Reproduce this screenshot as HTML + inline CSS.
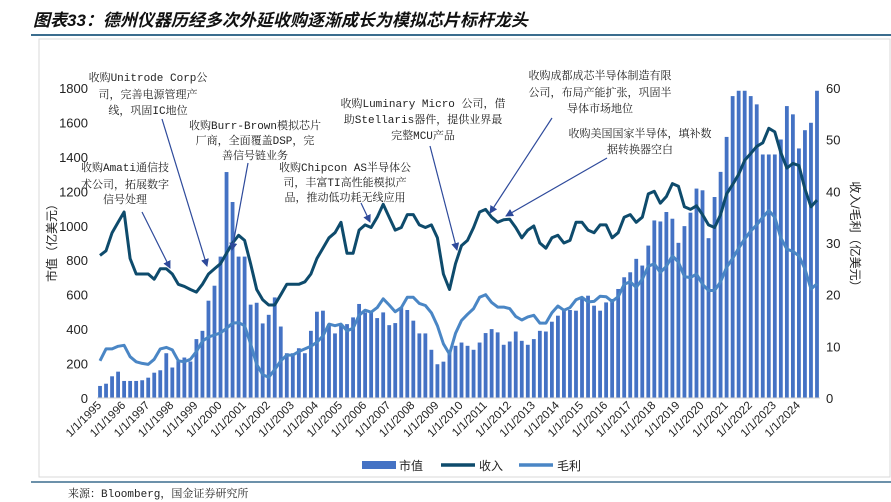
<!DOCTYPE html>
<html><head><meta charset="utf-8">
<style>
html,body{margin:0;padding:0;background:#fff;}
body{width:891px;height:502px;overflow:hidden;position:relative;font-family:"Liberation Sans","Noto Sans CJK SC",sans-serif;}
svg{position:absolute;left:0;top:0;}
</style></head>
<body>
<svg id="chart" width="891" height="502" viewBox="0 0 891 502">
  <text x="33" y="26" font-size="17" font-weight="bold" font-style="italic" font-family="'Liberation Sans','Noto Sans CJK SC',sans-serif" fill="#111">图表33：德州仪器历经多次外延收购逐渐成长为模拟芯片标杆龙头</text>
  <line x1="31" y1="35" x2="891" y2="35" stroke="#3B6D8E" stroke-width="2"/>
  <rect x="39" y="39" width="851" height="438" fill="none" stroke="#d9d9d9" stroke-width="1"/>
  <line x1="31" y1="482" x2="891" y2="482" stroke="#3B6D8E" stroke-width="1.5"/>
  <text x="68" y="497" font-size="11" font-family="'Liberation Mono','Noto Serif CJK SC',monospace" fill="#222">来源：Bloomberg，国金证券研究所</text>
  <g id="bars"></g>
  <g id="lines"></g>
  <g id="axes"></g>
  <g id="notes" font-size="11" font-family="'Liberation Mono','Noto Serif CJK SC',monospace" fill="#222"></g>
  <text x="0" y="0" transform="translate(56,240) rotate(-90)" text-anchor="middle" font-size="12" fill="#222">市值（亿美元）</text>
  <text x="0" y="0" transform="translate(851,237) rotate(90)" text-anchor="middle" font-size="12" fill="#222">收入/毛利（亿美元）</text>
  <g>
    <rect x="362" y="461" width="34" height="8" fill="#4472C4"/>
    <text x="399" y="470" font-size="12" fill="#222">市值</text>
    <line x1="441" y1="465" x2="475" y2="465" stroke="#0E4B6C" stroke-width="3.5"/>
    <text x="479" y="470" font-size="12" fill="#222">收入</text>
    <line x1="519" y1="465" x2="553" y2="465" stroke="#4A86C5" stroke-width="3.5"/>
    <text x="557" y="470" font-size="12" fill="#222">毛利</text>
  </g>
</svg>
<script>
const startYear = 1995;
const marketCap = [70,83,126,153,99,99,99,103,118,147,161,260,177,216,235,212,342,390,565,652,821,1312,1138,821,821,542,553,433,483,584,415,260,260,289,260,390,501,507,429,375,
429,429,468,546,497,497,464,497,423,435,526,511,449,375,375,280,196,211,268,303,322,303,280,322,377,400,381,309,328,386,332,309,342,390,386,443,478,511,511,507,
575,594,536,507,555,575,633,701,730,808,769,885,1031,1025,1080,1041,901,998,1076,1216,1206,928,1167,1313,1516,1753,1784,1784,1753,1705,1414,1414,1414,1501,1695,1647,1449,1555,1598,1784];
const revenue = [27.6,28.5,32,34,36,27,24,24,24,23,25,25,24,22,21.6,21,20.5,22,24,25,26,28,30,31.5,30.5,26,21,19,18,18,20,22,22,22,22.5,24,27,29,31,32,
34,28,28,32.5,33.5,33,35,37.5,35,32.5,33,35.5,35.5,33.5,33,33.5,31,24,21,26,29.5,30.5,33,36,36.5,35,34,34.5,34.6,33,31,32.5,33.3,30,29,31,31.5,30,30.5,34,
34,32.5,32,33.5,33.5,31,32,35,35.5,34,35,39.5,40,37.7,39,41.5,41,37,36.5,37.2,35.5,33.5,33,35.5,39.5,41.3,43.3,46,47.3,48.7,49.4,52.2,51.5,47.5,44.5,45.4,45,40.5,37,38.3];
const grossProfit = [7.2,9.5,9.5,10,10.2,8,7,6.7,6.5,7.5,9.5,9.8,9.3,7.2,7,7.5,9,11,11.8,12.2,12.6,13.5,14.5,14.6,14,10.5,6.5,4.5,4,5.5,7.2,8.3,8.3,9,9.5,10,10.8,12,14.3,14,
14.3,13,13.5,16,17,16.6,17.5,19.2,18,16.7,17.5,19.5,19.5,18.3,17.9,16.5,14,10.5,8.5,12.5,15,16.2,17.3,19.5,20,18.5,17.6,17.6,17.3,15.8,15.1,15.7,16,14.5,14.5,16.5,17.8,17,17.5,19,
19.5,18.6,18.7,19.7,19.6,18.7,19.6,22,22.5,21.4,23,25.5,26,24.3,25.5,27.5,26.3,23.5,23.3,24,22,20.8,20.8,22.5,25.3,27,29,30.8,32.3,33.5,35,36.3,35,31,28.8,28.4,27.5,25,21.1,22.1];
const leftTicks = [0,200,400,600,800,1000,1200,1400,1600,1800];
const rightTicks = [0,10,20,30,40,50,60];
const yearLabels = ["1/1/1995","1/1/1996","1/1/1997","1/1/1998","1/1/1999","1/1/2000","1/1/2001","1/1/2002","1/1/2003","1/1/2004","1/1/2005","1/1/2006","1/1/2007","1/1/2008","1/1/2009","1/1/2010","1/1/2011","1/1/2012","1/1/2013","1/1/2014","1/1/2015","1/1/2016","1/1/2017","1/1/2018","1/1/2019","1/1/2020","1/1/2021","1/1/2022","1/1/2023","1/1/2024"];

const NS = "http://www.w3.org/2000/svg";
const X0 = 97, X1 = 820, Y0 = 398, YT = 88;
const n = marketCap.length;
const band = (X1 - X0) / n;
const xc = i => X0 + band * (i + 0.5);
const yL = v => Y0 - (v / 1800) * (Y0 - YT);
const yR = v => Y0 - (v / 60) * (Y0 - YT);
function mk(tag, attrs, parent){ const e=document.createElementNS(NS,tag); for(const k in attrs) e.setAttribute(k,attrs[k]); parent.appendChild(e); return e; }

const gb = document.getElementById('bars');
marketCap.forEach((v,i)=>{
  const r = mk('rect',{x:xc(i)-1.9,y:yL(v),width:3.8,height:Y0-yL(v),fill:'#4472C4'},gb);
  
  
});
const gl = document.getElementById('lines');
function line(arr,color,name){
  const d = arr.map((v,i)=>(i?'L':'M')+xc(i).toFixed(1)+','+yR(v).toFixed(1)).join(' ');
  const p = mk('path',{d:d,fill:'none',stroke:color,'stroke-width':3,'stroke-linejoin':'round'},gl);
  
  
}
line(grossProfit,'#4A86C5','gross-profit-line');
line(revenue,'#0E4B6C','revenue-line');

const ga = document.getElementById('axes');
const base = mk('line',{x1:X0,y1:Y0,x2:X1,y2:Y0,stroke:'#d0d0d0','stroke-width':1},ga);


leftTicks.forEach(v=>{
  const t = mk('text',{x:88,y:yL(v)+5,'text-anchor':'end','font-size':13,fill:'#222'},ga);
  t.textContent = v;
  
  
});
rightTicks.forEach(v=>{
  const t = mk('text',{x:826,y:yR(v)+5,'text-anchor':'start','font-size':13,fill:'#222'},ga);
  t.textContent = v;
  
  
});
yearLabels.forEach((s,k)=>{
  const x = xc(k*4)+2, y = Y0+8;
  const t = mk('text',{x:0,y:0,transform:`translate(${x},${y}) rotate(-45)`,'text-anchor':'end','font-size':11.5,fill:'#222'},ga);
  t.textContent = s;
  
  
});

const gn = document.getElementById('notes');
const notes = [
  {lines:["收购Unitrode Corp公","司，完善电源管理产","线，巩固IC地位"],x:148,y:[81,98,114],arrow:[162,119,207,266],name:'note-unitrode'},
  {lines:["收购Burr-Brown模拟芯片","厂商，全面覆盖DSP，完","善信号链业务"],x:255,y:[129,144,159],arrow:[248,163,232,250],name:'note-burr-brown'},
  {lines:["收购Amati通信技","术公司，拓展数字","信号处理"],x:125,y:[171,188,203],arrow:[142,212,170,268],name:'note-amati'},
  {lines:["收购Chipcon AS半导体公","司，丰富TI高性能模拟产","品，推动低功耗无线应用"],x:345,y:[171,186,201],arrow:[361,203,370,222],name:'note-chipcon'},
  {lines:["收购Luminary Micro 公司，借","助Stellaris器件，提供业界最","完整MCU产品"],x:423,y:[107,123,139],arrow:[430,146,457,250],name:'note-luminary'},
  {lines:["收购成都成芯半导体制造有限","公司，布局产能扩张，巩固半","导体市场地位"],x:600,y:[79,96,112],arrow:[552,118,490,213],name:'note-chengxin'},
  {lines:["收购美国国家半导体，填补数","据转换器空白"],x:640,y:[137,153],arrow:[607,158,506,216],name:'note-national-semi'}
];
const defs = mk('defs',{},document.getElementById('chart'));
const mkr = mk('marker',{id:'ah',markerWidth:8,markerHeight:8,refX:7,refY:4,orient:'auto',markerUnits:'userSpaceOnUse'},defs);
mk('path',{d:'M0,0 L8,4 L0,8 Z',fill:'#2E4A9B'},mkr);
notes.forEach(nt=>{
  const g = mk('g',{},gn);
  
  
  nt.lines.forEach((s,i)=>{
    const t = mk('text',{x:nt.x,y:nt.y[i],'text-anchor':'middle'},g);
    t.textContent = s;
  });
  const a = nt.arrow;
  const l = mk('line',{x1:a[0],y1:a[1],x2:a[2],y2:a[3],stroke:'#2E4A9B','stroke-width':1.2,'marker-end':'url(#ah)'},g);
  
  
});
</script>
</body></html>
